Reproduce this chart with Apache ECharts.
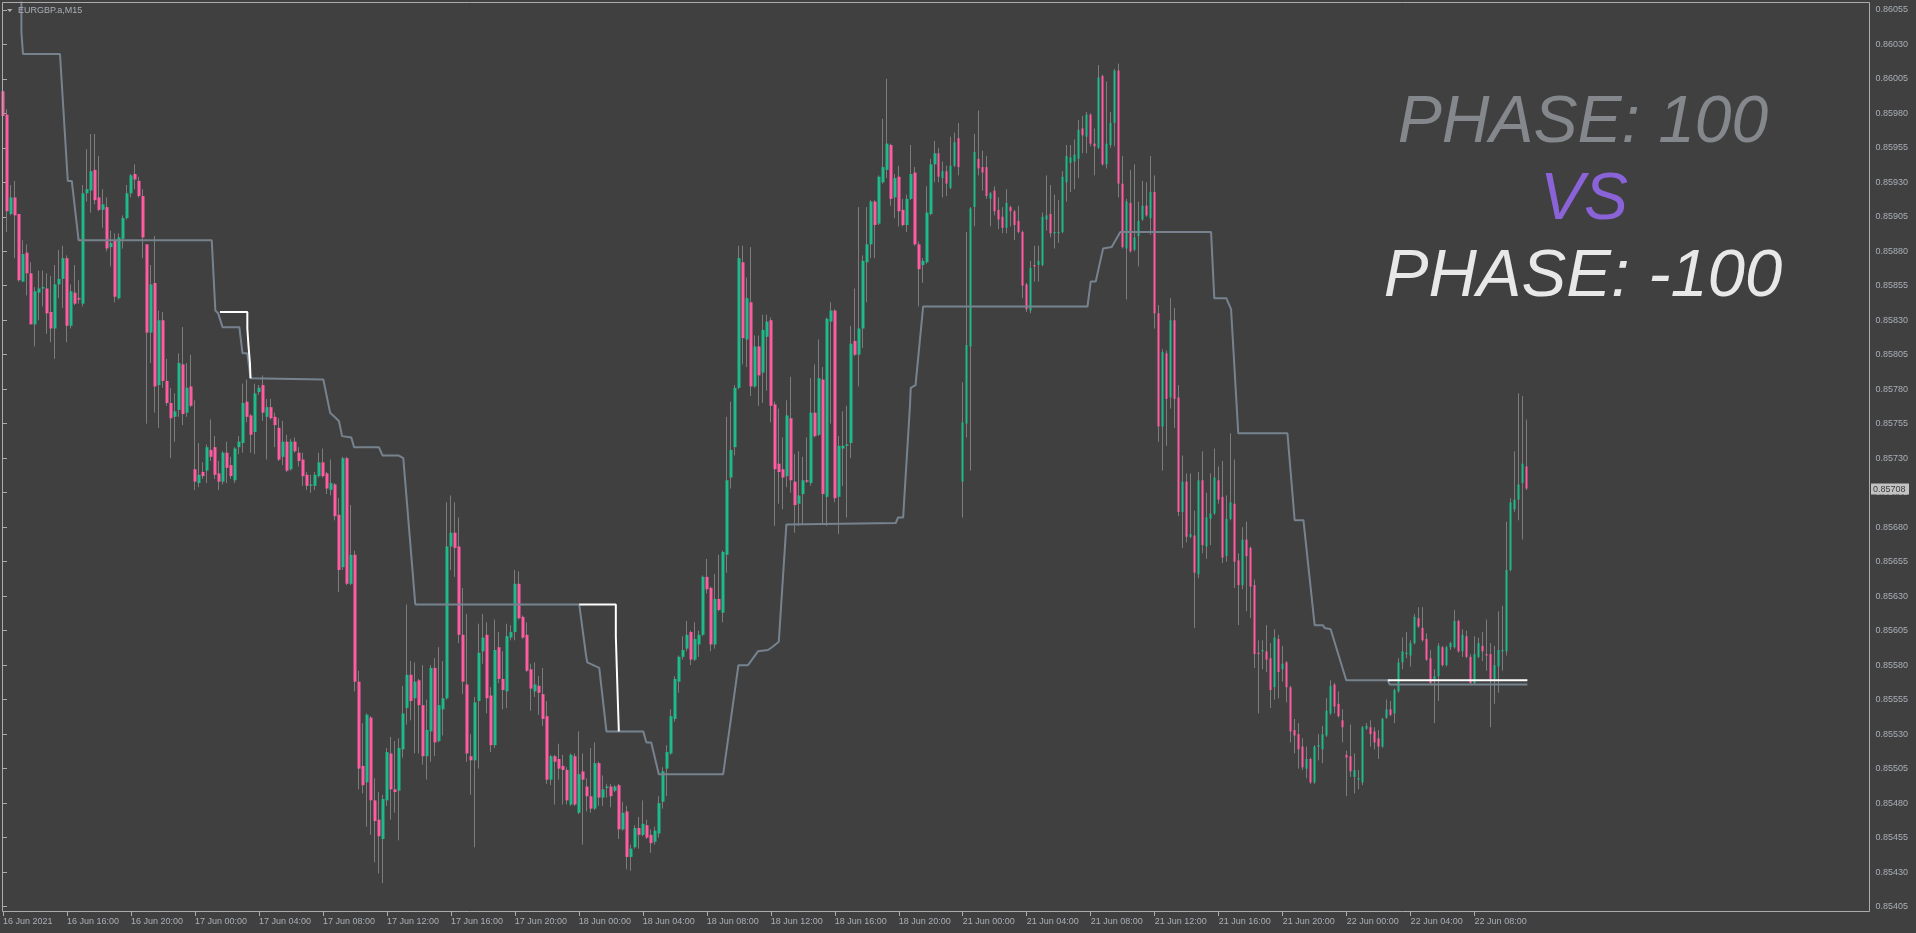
<!DOCTYPE html>
<html><head><meta charset="utf-8">
<script src="https://cdn.jsdelivr.net/npm/echarts@6/dist/echarts.min.js"></script>
<style>html,body{margin:0;padding:0;background:#404040;overflow:hidden}#c{width:1916px;height:933px}</style>
</head><body><div id="c"></div>
<script>
// Prices in points (1 point = 0.00001), EURGBP M15 from 16 Jun 2021 12:00
const openPts = [
85996,85979,85907,85919,85907,85858,85879,85864,85827,85850,
85853,85853,85836,85824,85856,85860,85875,85826,85850,85846,
85842,85922,85924,85939,85919,85910,85912,85883,85888,85846,
85889,85904,85922,85936,85931,85920,85885,85821,85857,85783,
85830,85786,85770,85760,85765,85798,85763,85782,85722,85712,
85720,85721,85736,85738,85719,85713,85734,85725,85714,85738,
85741,85771,85761,85749,85778,85783,85760,85767,85760,85752,
85731,85742,85722,85742,85734,85729,85718,85710,85710,85717,
85727,85719,85707,85711,85689,85651,85730,85639,85660,85568,
85507,85495,85542,85482,85468,85454,85482,85516,85490,85489,
85519,85549,85573,85556,85569,85551,85514,85532,85578,85525,
85548,85556,85666,85676,85666,85602,85566,85514,85511,85554,
85590,85602,85558,85522,85593,85570,85561,85600,85604,85639,
85615,85602,85577,85561,85565,85559,85543,85497,85514,85512,
85507,85504,85479,85514,85473,85503,85492,85485,85476,85509,
85484,85491,85492,85489,85493,85461,85474,85441,85448,85462,
85457,85464,85457,85452,85458,85481,85505,85516,85541,85568,
85586,85592,85604,85584,85595,85602,85644,85636,85595,85628,
85618,85660,85716,85738,85781,85872,85816,85843,85782,85811,
85792,85818,85830,85769,85726,85722,85717,85759,85713,85697,
85704,85714,85712,85763,85747,85787,85702,85829,85837,85702,
85737,85739,85741,85815,85805,85824,85872,85885,85916,85900,
85930,85939,85957,85919,85934,85910,85899,85918,85937,85885,
85870,85872,85907,85943,85951,85933,85938,85926,85942,85962,
85713,85755,85811,85912,85947,85941,85941,85918,85924,85910,
85905,85897,85912,85909,85902,85894,85856,85837,85870,85870,
85870,85903,85907,85893,85893,85894,85930,85944,85945,85947,
85969,85963,85979,85958,85955,86007,85943,85957,85973,86011,
85929,85882,85915,85881,85891,85903,85913,85904,85923,85835,
85753,85806,85774,85830,85774,85691,85713,85673,85674,85646,
85714,85666,85686,85690,85714,85702,85659,85686,85697,85656,
85638,85671,85665,85638,85589,85590,85590,85585,85564,85599,
85577,85582,85564,85533,85530,85521,85505,85512,85495,85521,
85519,85529,85545,85566,85552,85540,85515,85514,85499,85497,
85495,85534,85535,85532,85527,85521,85542,85548,85545,85561,
85582,85588,85587,85596,85614,85607,85599,85585,85570,85572,
85593,85580,85593,85593,85612,85590,85601,85586,85567,85586,
85594,85588,85588,85570,85579,85590,85590,85649,85693,85700,
85712,85724];
const highPts = [
86023,85983,85928,85931,85907,85888,85885,85872,85854,85866,
85866,85864,85862,85870,85881,85884,85877,85856,85870,85859,
85928,85954,85965,85965,85949,85925,85919,85895,85893,85893,
85906,85928,85936,85943,85934,85925,85885,85870,85891,85837,
85836,85802,85781,85777,85806,85825,85799,85805,85772,85741,
85727,85740,85758,85746,85728,85735,85742,85731,85738,85746,
85784,85787,85762,85784,85783,85790,85773,85773,85763,85759,
85757,85747,85744,85745,85738,85734,85720,85718,85720,85734,
85737,85720,85729,85712,85701,85731,85731,85696,85663,85576,
85538,85545,85543,85498,85488,85486,85520,85528,85525,85527,
85565,85624,85583,85582,85570,85580,85555,85580,85585,85593,
85583,85698,85703,85698,85687,85636,85617,85530,85557,85610,
85617,85611,85564,85613,85604,85590,85610,85609,85649,85648,
85616,85611,85581,85582,85572,85578,85554,85515,85515,85523,
85515,85506,85516,85516,85532,85516,85498,85520,85524,85510,
85500,85494,85494,85493,85494,85481,85478,85450,85464,85470,
85482,85468,85461,85463,85485,85506,85522,85548,85572,85587,
85601,85612,85605,85611,85605,85645,85657,85637,85646,85660,
85663,85760,85771,85783,85884,85884,85861,85883,85819,85819,
85834,85834,85832,85771,85766,85745,85772,85789,85733,85735,
85731,85745,85788,85798,85816,85796,85832,85843,85838,85746,
85764,85768,85826,85853,85912,85877,85912,85917,85917,85935,
85976,86005,85958,85936,85942,85918,85921,85957,85941,85887,
85875,85927,85947,85960,85955,85945,85942,85963,85966,85973,
85785,85894,85912,85965,85982,85953,85949,85923,85927,85919,
85912,85925,85913,85910,85913,85895,85857,85873,85884,85884,
85908,85935,85928,85921,85917,85938,85957,85957,85961,85975,
85978,85981,85980,85969,86015,86008,86003,85981,86012,86016,
85949,85918,85939,85943,85916,85931,85930,85949,85935,85841,
85809,85808,85846,85839,85783,85732,85719,85719,85692,85720,
85735,85705,85719,85737,85724,85728,85703,85748,85729,85661,
85680,85684,85666,85642,85598,85598,85609,85596,85606,85602,
85594,85583,85565,85541,85538,85527,85521,85513,85522,85530,
85536,85556,85569,85567,85561,85548,85518,85537,85516,85504,
85536,85538,85540,85535,85533,85542,85555,85554,85563,85585,
85600,85604,85598,85617,85622,85622,85603,85591,85577,85596,
85594,85594,85597,85620,85613,85606,85605,85588,85601,85600,
85604,85613,85596,85594,85619,85623,85684,85701,85735,85777,
85775,85758];
const lowPts = [
85977,85894,85906,85875,85858,85858,85848,85827,85811,85830,
85840,85820,85814,85802,85846,85839,85814,85824,85841,85842,
85840,85916,85908,85914,85909,85897,85880,85869,85843,85845,
85882,85903,85919,85925,85919,85875,85755,85799,85763,85752,
85781,85768,85730,85742,85760,85754,85760,85767,85707,85709,
85715,85712,85728,85715,85707,85711,85712,85715,85712,85733,
85734,85756,85734,85733,85776,85757,85729,85758,85738,85728,
85725,85720,85721,85734,85724,85710,85707,85705,85707,85716,
85716,85704,85703,85685,85633,85649,85638,85638,85561,85490,
85487,85463,85457,85437,85429,85422,85478,85468,85473,85453,
85513,85537,85540,85516,85516,85508,85497,85510,85514,85524,
85529,85555,85649,85644,85596,85559,85510,85486,85448,85505,
85581,85545,85517,85520,85567,85548,85549,85598,85598,85613,
85599,85575,85547,85557,85544,85536,85494,85493,85479,85497,
85479,85479,85478,85478,85472,85450,85474,85473,85475,85478,
85478,85484,85477,85488,85454,85460,85432,85431,85447,85447,
85456,85454,85444,85450,85455,85476,85485,85515,85539,85560,
85584,85590,85580,85583,85586,85601,85632,85590,85592,85619,
85611,85647,85708,85732,85780,85798,85796,85775,85781,85768,
85770,85779,85756,85681,85697,85693,85709,85705,85676,85681,
85682,85712,85710,85745,85746,85682,85681,85755,85698,85675,
85710,85687,85730,85804,85782,85810,85843,85875,85875,85899,
85929,85933,85913,85904,85898,85898,85894,85917,85884,85840,
85857,85871,85906,85930,85930,85919,85920,85925,85941,85935,
85687,85745,85721,85898,85935,85924,85918,85898,85906,85896,
85893,85893,85898,85888,85893,85846,85836,85835,85858,85858,
85869,85895,85890,85882,85886,85893,85916,85923,85925,85933,
85951,85951,85956,85935,85954,85942,85940,85955,85956,85919,
85882,85845,85879,85880,85869,85902,85905,85892,85824,85742,
85721,85739,85766,85752,85688,85665,85669,85672,85607,85643,
85661,85657,85667,85689,85697,85654,85655,85685,85636,85609,
85635,85619,85614,85578,85545,85577,85575,85549,85555,85556,
85568,85553,85524,85516,85505,85504,85498,85494,85494,85511,
85509,85528,85544,85545,85542,85524,85485,85499,85487,85490,
85493,85533,85521,85519,85512,85520,85541,85543,85538,85560,
85577,85585,85579,85595,85607,85597,85583,85566,85538,85554,
85579,85579,85591,85592,85589,85586,85585,85566,85566,85585,
85583,85576,85535,85552,85560,85576,85587,85648,85691,85685,
85671,85707];
const closePts = [
85978,85909,85919,85906,85859,85878,85864,85827,85851,85853,
85854,85835,85824,85856,85860,85875,85826,85851,85842,85845,
85922,85925,85938,85917,85910,85914,85882,85886,85847,85890,
85904,85922,85935,85932,85920,85890,85821,85856,85782,85830,
85786,85770,85759,85764,85799,85762,85781,85768,85713,85718,
85717,85738,85731,85718,85713,85734,85723,85717,85737,85742,
85770,85760,85747,85777,85781,85763,85767,85759,85754,85729,
85742,85721,85742,85735,85728,85717,85710,85711,85718,85727,
85717,85708,85712,85688,85649,85730,85639,85660,85568,85505,
85493,85544,85482,85467,85456,85483,85517,85490,85488,85520,
85545,85573,85554,85568,85551,85514,85533,85578,85524,85551,
85556,85666,85676,85665,85602,85568,85516,85511,85553,85589,
85600,85556,85522,85591,85570,85562,85601,85604,85639,85614,
85600,85576,85563,85566,85560,85541,85497,85514,85510,85505,
85504,85482,85515,85479,85501,85497,85485,85476,85509,85484,
85490,85492,85485,85492,85461,85473,85441,85447,85462,85457,
85465,85455,85451,85460,85480,85503,85517,85543,85570,85586,
85591,85602,85584,85599,85602,85644,85635,85595,85628,85620,
85662,85714,85736,85781,85875,85817,85846,85782,85811,85790,
85823,85829,85768,85722,85720,85716,85761,85714,85696,85703,
85714,85713,85763,85746,85788,85704,85831,85837,85701,85739,
85739,85740,85813,85805,85824,85873,85885,85916,85899,85934,
85941,85958,85918,85933,85909,85899,85918,85936,85885,85867,
85873,85908,85943,85951,85934,85938,85929,85942,85959,85941,
85756,85812,85911,85952,85940,85937,85920,85922,85909,85903,
85897,85915,85909,85899,85894,85855,85838,85868,85869,85873,
85905,85906,85893,85894,85894,85934,85949,85948,85950,85968,
85964,85979,85958,85956,86006,85943,85958,85973,86011,85929,
85883,85916,85880,85890,85902,85913,85906,85923,85835,85753,
85807,85773,85830,85773,85691,85713,85673,85675,85647,85714,
85667,85687,85690,85716,85700,85658,85686,85698,85655,85638,
85671,85659,85637,85588,85588,85591,85584,85562,85600,85575,
85581,85564,85532,85529,85519,85506,85512,85495,85521,85522,
85530,85547,85565,85550,85543,85535,85513,85503,85504,85498,
85535,85536,85530,85524,85521,85541,85548,85544,85562,85582,
85590,85589,85596,85615,85608,85598,85584,85567,85572,85594,
85580,85593,85596,85612,85590,85602,85586,85567,85588,85596,
85590,85587,85570,85580,85591,85591,85649,85698,85700,85711,
85726,85708];

// Indicator (PHASE 100) vertices: bar index, price in points
const grayBar = [4.6,4.6,5,14.25,16.2,17.2,18.9,52.2,53.1,53.8,54.9,59.1,59.9,61.1,61.9,80.1,81.8,84,84.8,87.1,87.8,94,94.9,98.9,100.1,103.1,144.1,145.8,146.1,149.1,150.9,160.1,160.9,162.1,164,180.1,183.9,186.3,188.8,191.3,192.3,194,195.9,223.25,223.8,225.1,225.3,226.8,227,228.2,230.1,271.2,272,273.25,275.1,277.25,279.4,302.1,302.9,305.9,307.1,308.9,321.2,323,325.2,328,330.1,330.5,332,335.9,346.3,346.75,381.2];
const grayPts = [86061,86039,86023,86023,85931,85931,85888,85888,85837,85835,85825,85825,85806,85806,85788,85787,85763,85757,85746,85745,85738,85738,85732,85732,85730,85624,85624,85587,85582,85578,85532,85532,85524,85524,85501,85501,85580,85580,85590,85591,85593,85597,85682,85683,85687,85687,85697,85768,85781,85783,85840,85840,85858,85858,85882,85883,85894,85894,85846,85846,85838,85748,85748,85685,85685,85609,85609,85607,85606,85569,85569,85566,85566];
// Indicator (PHASE -100) segments
const white1Bar = [54.25,61.1,61.1,61.4,61.4,61.75,61.75,61.9,61.9];
const white1Pts = [85836,85836,85824,85824,85811,85811,85799,85799,85788];
const white2Bar = [144.1,153.25,153.25,153.5,153.5,153.75,153.75,154,154];
const white2Pts = [85624,85624,85601,85601,85577,85577,85554,85554,85532];
const white3Bar = [346.3,381.2];
const white3Pts = [85569,85569];

const yTickMin = 0.85405, yTickMax = 0.86055, yTickStep = 0.00025;
const SCALE = 1e-5;
const N_SLOTS = 467;
const LABEL_EVERY = 16;

const categories = [];
(function(){
  let day = 16, m = 12*60;
  for (let i = 0; i < N_SLOTS; i++) {
    const hh = String(Math.floor(m/60)).padStart(2,'0'), mm = String(m%60).padStart(2,'0');
    categories.push(day + ' Jun ' + hh + ':' + mm);
    m += 15;
    if (m >= 1440) { m = 0; day = (day === 18) ? 21 : day + 1; }
  }
})();
const firstLabel = '16 Jun 2021';
const nBars = openPts.length;

const bodies = openPts.map((o,i)=>{const c=closePts[i];return [o*SCALE,c*SCALE,Math.min(o,c)*SCALE,Math.max(o,c)*SCALE];});
const wicks = openPts.map((o,i)=>[o*SCALE,closePts[i]*SCALE,lowPts[i]*SCALE,highPts[i]*SCALE]);
const pairs = (b,p)=>b.map((k,i)=>[k,p[i]*SCALE]);
const lastClose = closePts[nBars-1]*SCALE;

const FG = '#a9afb7', FRAME = '#acacac', BULL = '#1fb98b', BEAR = '#ff5aa2', WICK = '#7c7c7c';
const FONT = 'Liberation Sans';
const showIdx = (idx)=> idx % LABEL_EVERY === 0 && idx < nBars;

const chart = echarts.init(document.getElementById('c'), null, {renderer:'canvas'});
chart.setOption({
  animation:false,
  backgroundColor:'#404040',
  grid:{left:0.5, right:47.5, top:9.8, bottom:26.4, containLabel:false},
  xAxis:[{
    type:'category', data:categories, boundaryGap:true, offset:5.4,
    axisLine:{show:false},
    axisTick:{show:true, alignWithLabel:true, interval:showIdx, length:4, lineStyle:{color:FRAME}},
    axisLabel:{interval:showIdx, align:'left', margin:5, color:FG, fontSize:9, fontFamily:FONT,
      formatter:(v,idx)=> idx===0 ? firstLabel : v},
    splitLine:{show:false}
  },{
    type:'value', min:-0.5, max:N_SLOTS-0.5, show:false
  }],
  yAxis:[{
    type:'value', position:'right', min:yTickMin, max:yTickMax, interval:yTickStep, scale:true,
    axisLine:{show:false},
    axisTick:{show:true, length:4, lineStyle:{color:FRAME}},
    axisLabel:{margin:7, color:FG, fontSize:9, fontFamily:FONT, formatter:v=>v.toFixed(5)},
    splitLine:{show:false}
  }],
  series:[{
    type:'candlestick', name:'wicks', xAxisIndex:0, yAxisIndex:0, data:wicks, barWidth:1, silent:true, z:2,
    itemStyle:{color:'rgba(0,0,0,0)', color0:'rgba(0,0,0,0)', borderColor:WICK, borderColor0:WICK, borderColorDoji:WICK, borderWidth:1}
  },{
    type:'candlestick', name:'bodies', xAxisIndex:0, yAxisIndex:0, data:bodies, barWidth:3, silent:true, z:3,
    itemStyle:{color:BULL, color0:BEAR, borderColor:BULL, borderColor0:BEAR, borderColorDoji:BULL, borderWidth:0}
  },{
    type:'line', name:'phase100', xAxisIndex:1, yAxisIndex:0, data:pairs(grayBar,grayPts), symbol:'none', clip:false,
    lineStyle:{color:'#76838f', width:2}, silent:true, z:5
  },{
    type:'line', name:'phaseMinus100a', xAxisIndex:1, yAxisIndex:0, data:pairs(white1Bar,white1Pts), symbol:'none',
    lineStyle:{color:'#ffffff', width:2}, silent:true, z:6
  },{
    type:'line', name:'phaseMinus100b', xAxisIndex:1, yAxisIndex:0, data:pairs(white2Bar,white2Pts), symbol:'none',
    lineStyle:{color:'#ffffff', width:2}, silent:true, z:6
  },{
    type:'line', name:'phaseMinus100c', xAxisIndex:1, yAxisIndex:0, data:pairs(white3Bar,white3Pts), symbol:'none',
    lineStyle:{color:'#ffffff', width:2}, silent:true, z:6
  }],
  graphic:[
    {id:'frame', type:'rect', shape:{x:2.5,y:2.5,width:1867,height:909}, style:{fill:null, stroke:FRAME, lineWidth:1}, silent:true, z:10},
    {id:'tri', type:'polygon', shape:{points:[[7,9],[12.5,9],[9.75,12]]}, style:{fill:FG}, silent:true, z:10},
    {id:'sym', type:'text', x:18, y:11, style:{text:'EURGBP.a,M15', fill:FG, font:'9px "Liberation Sans"', verticalAlign:'middle', textVerticalAlign:'middle'}, silent:true, z:10},
    {id:'t1', type:'text', x:1583, y:123.5, style:{text:'PHASE: 100', fill:'#84878b', font:'italic 66px "Liberation Sans"', align:'center', textAlign:'center', verticalAlign:'middle', textVerticalAlign:'middle'}, silent:true, z:10},
    {id:'t2', type:'text', x:1584, y:200.5, style:{text:'VS', fill:'#8a63d8', font:'italic 66px "Liberation Sans"', align:'center', textAlign:'center', verticalAlign:'middle', textVerticalAlign:'middle'}, silent:true, z:10},
    {id:'t3', type:'text', x:1583, y:277.5, style:{text:'PHASE: -100', fill:'#e8e8e8', font:'italic 67px "Liberation Sans"', align:'center', textAlign:'center', verticalAlign:'middle', textVerticalAlign:'middle'}, silent:true, z:10}
  ]
});
// Bid price box on the price scale, placed through the y axis scale
const bidY = chart.convertToPixel({yAxisIndex:0}, lastClose);
chart.setOption({graphic:[
  {id:'bidBox', type:'rect', shape:{x:1871, y:Math.round(bidY)-5.5, width:38, height:11}, style:{fill:'#c2c2c2'}, silent:true, z:20},
  {id:'bidText', type:'text', x:1873, y:Math.round(bidY)+0.5, style:{text:lastClose.toFixed(5), fill:'#3a3a3a', font:'9px "Liberation Sans"', verticalAlign:'middle', textVerticalAlign:'middle'}, silent:true, z:21}
]});
</script></body></html>
